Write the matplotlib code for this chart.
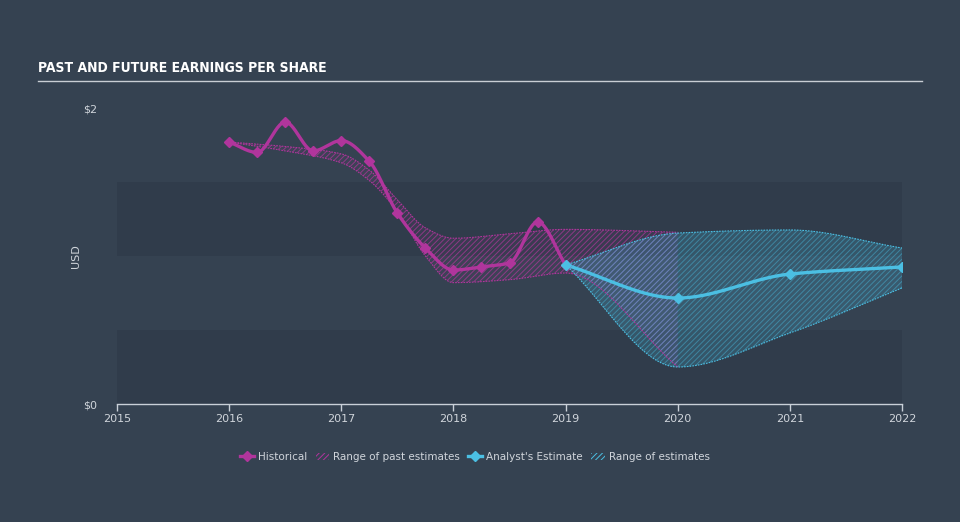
import numpy as np
import matplotlib
matplotlib.use("Agg")
import matplotlib.pyplot as plt
from matplotlib.lines import Line2D
from matplotlib.patches import Patch

# Historical EPS (quarterly points)
hist_x = [2016.0, 2016.25, 2016.5, 2016.75, 2017.0, 2017.25, 2017.5, 2017.75,
          2018.0, 2018.25, 2018.5, 2018.75, 2019.0]
hist_y = [1.77, 1.70, 1.905, 1.71, 1.78, 1.64, 1.29, 1.054,
          0.905, 0.926, 0.953, 1.23, 0.94]

# Range of past estimates
past_x = [2016.0, 2016.5, 2017.0, 2017.25, 2017.5, 2017.75, 2018.0, 2018.5, 2019.0, 2020.0]
past_hi = [1.77, 1.74, 1.69, 1.58, 1.38, 1.19, 1.12, 1.15, 1.18, 1.16]
past_lo = [1.77, 1.71, 1.63, 1.51, 1.30, 1.00, 0.82, 0.84, 0.885, 0.25]

# Analyst estimates
est_x = [2019.0, 2020.0, 2021.0, 2022.0]
est_y = [0.94, 0.716, 0.878, 0.926]
est_hi = [0.94, 1.155, 1.176, 1.054]
est_lo = [0.94, 0.25, 0.48, 0.784]

years = [2015, 2016, 2017, 2018, 2019, 2020, 2021, 2022]

PINK = "#b0359c"
BLUE = "#4bbfe3"
BG = "#354251"
BAND = "#303c4b"
TXT = "#d0d5db"


def smooth(x, y, n=300):
    # monotone cubic (Fritsch-Carlson) curve through the points
    x = np.asarray(x, float)
    y = np.asarray(y, float)
    h = np.diff(x)
    d = np.diff(y) / h
    m = np.zeros_like(y)
    m[0], m[-1] = d[0], d[-1]
    for k in range(1, len(x) - 1):
        if d[k - 1] * d[k] <= 0:
            m[k] = 0
        else:
            w1 = 2 * h[k] + h[k - 1]
            w2 = h[k] + 2 * h[k - 1]
            m[k] = (w1 + w2) / (w1 / d[k - 1] + w2 / d[k])
    xs = np.linspace(x[0], x[-1], n)
    i = np.clip(np.searchsorted(x, xs) - 1, 0, len(x) - 2)
    t = (xs - x[i]) / h[i]
    h00 = 2 * t**3 - 3 * t**2 + 1
    h10 = t**3 - 2 * t**2 + t
    h01 = -2 * t**3 + 3 * t**2
    h11 = t**3 - t**2
    ys = h00 * y[i] + h10 * h[i] * m[i] + h01 * y[i + 1] + h11 * h[i] * m[i + 1]
    return xs, ys


plt.rcParams["hatch.linewidth"] = 0.7

fig = plt.figure(figsize=(9.6, 5.22), dpi=100)
fig.patch.set_facecolor(BG)
ax = fig.add_axes([117 / 960, 1 - 404 / 522, 785 / 960, 296 / 522])
ax.set_facecolor("none")

# alternating bands
ax.axhspan(0, 0.5, color=BAND, zorder=0, lw=0)
ax.axhspan(1.0, 1.5, color=BAND, zorder=0, lw=0)

# past estimate range
xs, hi = smooth(past_x, past_hi)
_, lo = smooth(past_x, past_lo)
ax.fill_between(xs, lo, hi, facecolor=(0.69, 0.21, 0.61, 0.08), edgecolor="none", zorder=1)
ax.fill_between(xs, lo, hi, facecolor="none", edgecolor=(0.72, 0.22, 0.63, 0.65),
                hatch="//////", linewidth=0, zorder=1)
ax.plot(xs, hi, color=PINK, lw=0.8, ls=(0, (1.5, 1)), zorder=2)
ax.plot(xs, lo, color=PINK, lw=0.8, ls=(0, (1.5, 1)), zorder=2)

# estimate range
xs, hi = smooth(est_x, est_hi)
_, lo = smooth(est_x, est_lo)
ax.fill_between(xs, lo, hi, facecolor=(0.29, 0.75, 0.89, 0.2), edgecolor="none", zorder=1)
ax.fill_between(xs, lo, hi, facecolor="none", edgecolor=(0.29, 0.75, 0.89, 0.45),
                hatch="//////", linewidth=0, zorder=1)
ax.plot(xs, hi, color=BLUE, lw=0.8, ls=(0, (1.5, 1)), zorder=2)
ax.plot(xs, lo, color=BLUE, lw=0.8, ls=(0, (1.5, 1)), zorder=2)
ax.plot([est_x[-1], est_x[-1]], [est_lo[-1], est_hi[-1]], color=BLUE, lw=0.8,
        ls=(0, (1.5, 1)), zorder=2)

# lines
sx, sy = smooth(hist_x, hist_y)
ax.plot(sx, sy, color=PINK, lw=2.4, zorder=4, solid_capstyle="round")
ax.plot(hist_x, hist_y, ls="none", marker="D", ms=5.5, color=PINK, zorder=5)
sx, sy = smooth(est_x, est_y)
ax.plot(sx, sy, color=BLUE, lw=2.4, zorder=4, solid_capstyle="round")
ax.plot(est_x, est_y, ls="none", marker="D", ms=5.5, color=BLUE, zorder=5)

ax.set_xlim(2015, 2022)
ax.set_ylim(0, 2)
ax.set_xticks(years)
ax.set_xticklabels([str(y) for y in years])
ax.set_yticks([0, 2])
ax.set_yticklabels(["$0", "$2"])
for s in ["top", "right", "left"]:
    ax.spines[s].set_visible(False)
ax.spines["bottom"].set_color("#c9d0d8")
ax.spines["bottom"].set_linewidth(1)
ax.tick_params(axis="x", colors="#c9d0d8", labelcolor=TXT, labelsize=8, length=5, width=1, pad=2)
ax.tick_params(axis="y", length=0, labelcolor=TXT, labelsize=8, pad=14)
ax.set_ylabel("USD", color=TXT, fontsize=8, labelpad=2)

# title and rule
fig.text(38 / 960, 1 - 68 / 522, "PAST AND FUTURE EARNINGS PER SHARE", color="white",
         fontsize=10, fontweight="bold", fontstretch="condensed", va="center", ha="left",
         family="DejaVu Sans")
fig.add_artist(Line2D([38 / 960, 922 / 960], [1 - 81 / 522] * 2, color="#c9ced4", lw=1))

handles = [
    Line2D([], [], color=PINK, lw=2.4, marker="D", ms=5),
    Patch(facecolor="none", edgecolor=PINK, hatch="//////", lw=0),
    Line2D([], [], color=BLUE, lw=2.4, marker="D", ms=5),
    Patch(facecolor="none", edgecolor=BLUE, hatch="//////", lw=0),
]
labels = ["Historical", "Range of past estimates", "Analyst's Estimate", "Range of estimates"]
leg = fig.legend(handles, labels, loc="center", bbox_to_anchor=(475 / 960, 1 - 457 / 522),
                 ncol=4, frameon=False, fontsize=7.5, handlelength=1.3, handletextpad=0.4,
                 columnspacing=0.8)
for t in leg.get_texts():
    t.set_color(TXT)

fig.savefig("out.png", dpi=100, facecolor=fig.get_facecolor())
